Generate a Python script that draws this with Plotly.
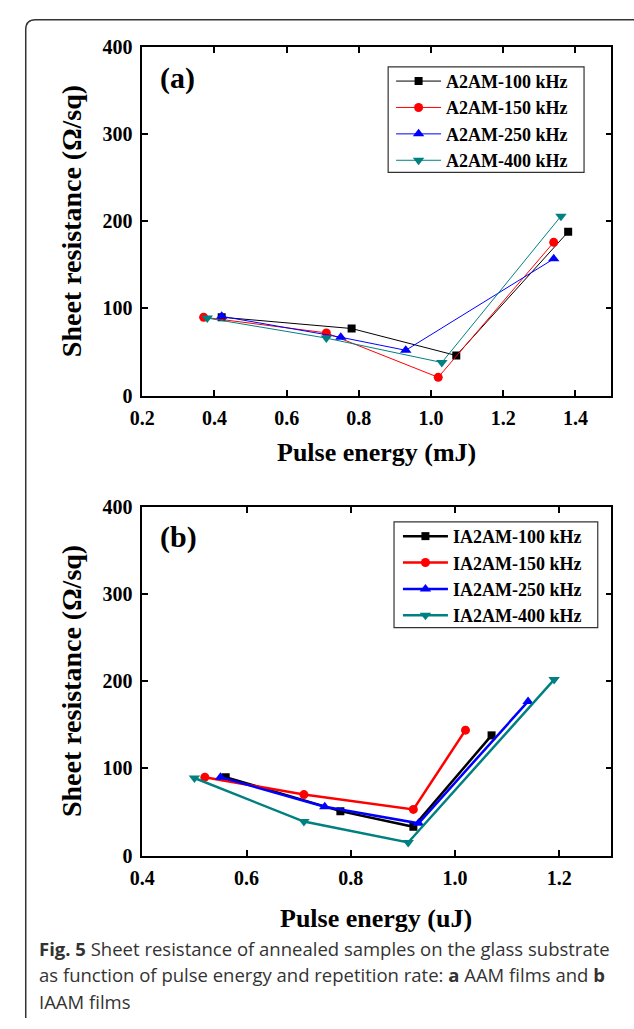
import plotly.graph_objects as go

W, H = 634, 1029

# ---------------- data ----------------
series_names_a = ["A2AM-100 kHz", "A2AM-150 kHz", "A2AM-250 kHz", "A2AM-400 kHz"]
series_names_b = ["IA2AM-100 kHz", "IA2AM-150 kHz", "IA2AM-250 kHz", "IA2AM-400 kHz"]

a_100_x = [0.42, 0.78, 1.07, 1.38]
a_100_y = [90, 77, 46, 188]
a_150_x = [0.37, 0.71, 1.02, 1.34]
a_150_y = [90, 72, 21, 176]
a_250_x = [0.42, 0.75, 0.93, 1.34]
a_250_y = [91, 67, 52, 157]
a_400_x = [0.38, 0.71, 1.03, 1.36]
a_400_y = [89, 66, 38, 206]

b_100_x = [0.56, 0.78, 0.92, 1.07]
b_100_y = [90, 51, 33, 138]
b_150_x = [0.52, 0.71, 0.92, 1.02]
b_150_y = [90, 70, 53, 144]
b_250_x = [0.55, 0.75, 0.93, 1.14]
b_250_y = [90, 56, 37, 177]
b_400_x = [0.50, 0.71, 0.91, 1.19]
b_400_y = [89, 39, 15, 202]

a_xticks = [0.2, 0.4, 0.6, 0.8, 1.0, 1.2, 1.4]
b_xticks = [0.4, 0.6, 0.8, 1.0, 1.2]
y_ticks = [0, 100, 200, 300, 400]

# ---------------- styles ----------------
colors = ["#000000", "#ff0000", "#0000ff", "#008080"]
symbols = ["square", "circle", "triangle-up", "triangle-down"]
msizes = [8, 9, 10, 10]
SERIF = "Liberation Serif"

def px_x(p):
    return p / W

def px_y(p):
    return 1 - p / H

fig = go.Figure()

a_data = [(a_100_x, a_100_y), (a_150_x, a_150_y), (a_250_x, a_250_y), (a_400_x, a_400_y)]
b_data = [(b_100_x, b_100_y), (b_150_x, b_150_y), (b_250_x, b_250_y), (b_400_x, b_400_y)]

for i, (xs, ys) in enumerate(a_data):
    fig.add_trace(go.Scatter(
        x=xs, y=ys, mode="lines+markers", name=series_names_a[i],
        line=dict(color=colors[i], width=1),
        marker=dict(symbol=symbols[i], size=msizes[i], color=colors[i]),
        xaxis="x", yaxis="y", legend="legend"))

for i, (xs, ys) in enumerate(b_data):
    fig.add_trace(go.Scatter(
        x=xs, y=ys, mode="lines+markers", name=series_names_b[i],
        line=dict(color=colors[i], width=2.5),
        marker=dict(symbol=symbols[i], size=msizes[i], color=colors[i]),
        xaxis="x2", yaxis="y2", legend="legend2"))

tickfont = dict(family=SERIF, size=20, color="black", weight="bold")
axis_common = dict(
    showline=True, mirror="ticks", linecolor="black", linewidth=1.5,
    ticks="inside", ticklen=6, tickwidth=1.5, tickcolor="black",
    showgrid=False, zeroline=False, tickfont=tickfont, ticklabelstandoff=4,
)

legend_font = dict(family=SERIF, size=18, color="black", weight="bold")
dom_x = [px_x(132), px_x(611)]
fig.update_layout(
    width=W, height=H,
    margin=dict(l=0, r=0, t=0, b=0),
    paper_bgcolor="white", plot_bgcolor="white",
    xaxis=dict(domain=dom_x, range=[0.2, 1.5], tickvals=a_xticks,
               ticktext=["%.1f" % v for v in a_xticks], anchor="y", **axis_common),
    yaxis=dict(domain=[px_y(393), px_y(37)], range=[0, 400], tickvals=y_ticks,
               anchor="x", **axis_common),
    xaxis2=dict(domain=dom_x, range=[0.4, 1.3], tickvals=b_xticks,
                ticktext=["%.1f" % v for v in b_xticks], anchor="y2", **axis_common),
    yaxis2=dict(domain=[px_y(863), px_y(507)], range=[0, 400], tickvals=y_ticks,
                anchor="x2", **axis_common),
    legend=dict(x=px_x(386), y=px_y(53), xanchor="left", yanchor="top",
                bgcolor="rgba(0,0,0,0)", borderwidth=0,
                font=legend_font, itemwidth=45, tracegroupgap=0),
    legend2=dict(x=px_x(393), y=px_y(518), xanchor="left", yanchor="top",
                 bgcolor="rgba(0,0,0,0)", borderwidth=0,
                 font=legend_font, itemwidth=45, tracegroupgap=0),
    showlegend=True,
)

annots = []
# panel labels
annots.append(dict(text="(a)", x=px_x(148), y=px_y(68), xref="paper", yref="paper",
                   xanchor="left", yanchor="middle", showarrow=False,
                   font=dict(family=SERIF, size=30, color="black", weight="bold")))
annots.append(dict(text="(b)", x=px_x(148), y=px_y(537), xref="paper", yref="paper",
                   xanchor="left", yanchor="middle", showarrow=False,
                   font=dict(family=SERIF, size=30, color="black", weight="bold")))
# axis titles
title_font = dict(family=SERIF, size=26, color="black", weight="bold")
annots.append(dict(text="Pulse energy (mJ)", x=px_x(371), y=px_y(451), xref="paper", yref="paper",
                   xanchor="center", yanchor="middle", showarrow=False, font=title_font))
annots.append(dict(text="Pulse energy (uJ)", x=px_x(371), y=px_y(927), xref="paper", yref="paper",
                   xanchor="center", yanchor="middle", showarrow=False, font=title_font))
ytitle_font = dict(family=SERIF, size=28, color="black", weight="bold")
annots.append(dict(text="Sheet resistance (Ω/sq)", x=px_x(60), y=px_y(215), xref="paper", yref="paper",
                   xanchor="center", yanchor="middle", textangle=-90, showarrow=False, font=ytitle_font))
annots.append(dict(text="Sheet resistance (Ω/sq)", x=px_x(60), y=px_y(685), xref="paper", yref="paper",
                   xanchor="center", yanchor="middle", textangle=-90, showarrow=False, font=ytitle_font))
# caption
cap_font = dict(family="Open Sans", size=18.5, color="#333333")
cap_lines = [
    "<b>Fig. 5</b> Sheet resistance of annealed samples on the glass substrate",
    "as function of pulse energy and repetition rate: <b>a</b> AAM films and <b>b</b>",
    "IAAM films",
]
for k, line in enumerate(cap_lines):
    annots.append(dict(text=line, x=px_x(24), y=px_y(958 + 27 * k), xref="paper", yref="paper",
                       xanchor="left", yanchor="middle", showarrow=False, font=cap_font))
fig.update_layout(annotations=annots)

# legend boxes
for (lx0, ly0, lx1, ly1) in [(383, 57, 583, 165), (389, 522, 597, 630)]:
    fig.add_shape(type="rect", xref="paper", yref="paper",
                  x0=px_x(lx0), x1=px_x(lx1), y0=px_y(ly1), y1=px_y(ly0),
                  line=dict(color="#333333", width=1.2), fillcolor="rgba(0,0,0,0)")

# outer frame (left + top with rounded corner)
x0 = px_x(13)
yt = px_y(9)
r_x = 10 / W
r_y = 10 / H
path = (f"M {x0},{px_y(1029)} L {x0},{yt - r_y} Q {x0},{yt} {x0 + r_x},{yt} L 1.0,{yt}")
fig.add_shape(type="path", path=path, xref="paper", yref="paper",
              line=dict(color="#333333", width=1.5))

fig.write_html("out.html", config={"displayModeBar": False},
               post_script="document.body.style.margin='0';document.body.style.overflow='hidden';")
